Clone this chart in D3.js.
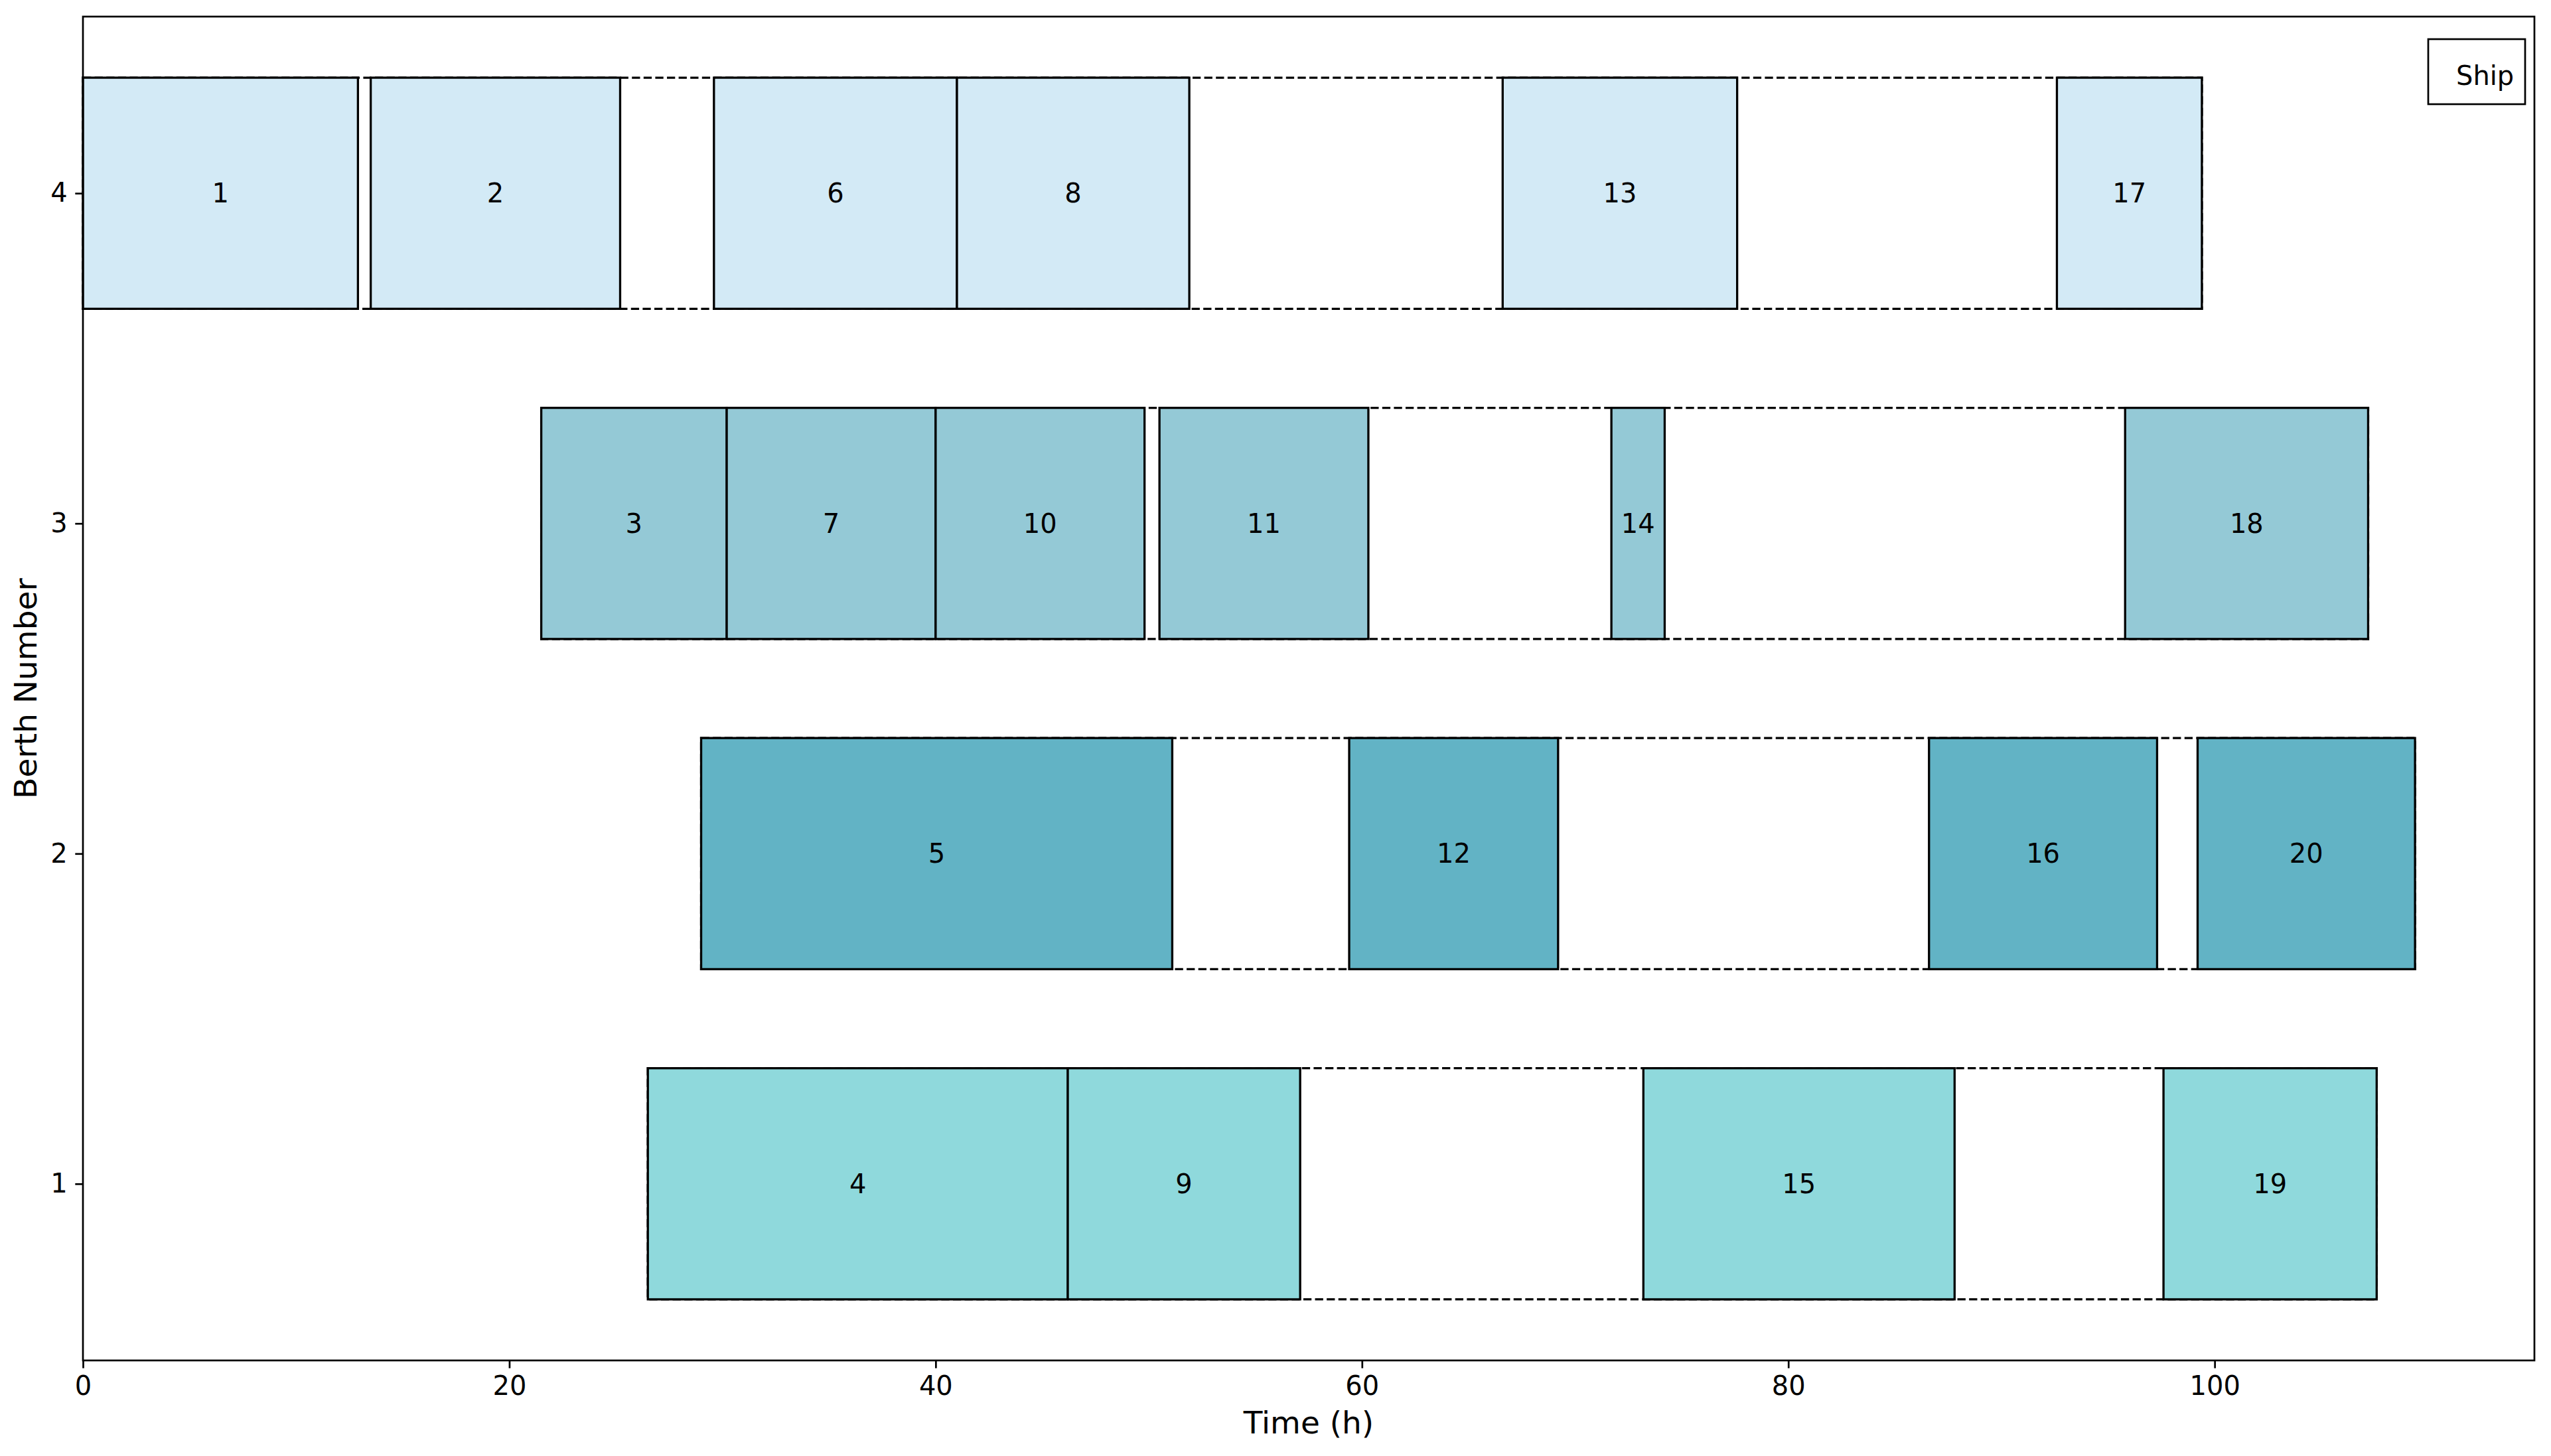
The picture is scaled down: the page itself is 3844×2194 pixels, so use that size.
<!DOCTYPE html>
<html>
<head>
<meta charset="utf-8">
<script src="https://cdn.jsdelivr.net/npm/d3@7"></script>
<style>
  html, body { margin: 0; padding: 0; background: #fff; }
  svg text { font-family: "DejaVu Sans", sans-serif; fill: #000; }
</style>
</head>
<body>
<div id="chart"></div>
<script>
// ship schedule (index i -> ship i+1)
const ships  = [1,2,3,4,5,6,7,8,9,10,11,12,13,14,15,16,17,18,19,20]
const berths = [4,4,3,1,2,4,3,4,1,3,3,2,4,3,1,2,4,3,1,2]
const starts = [0,13.5,21.5,26.5,29.0,29.6,30.2,41.0,46.2,40.0,50.5,59.4,66.6,71.7,73.2,86.6,92.6,95.8,97.6,99.2]
const ends   = [12.9,25.2,30.2,46.2,51.1,41.0,40.0,51.9,57.1,49.8,60.3,69.2,77.6,74.2,87.8,97.3,99.4,107.2,107.6,109.4]
const berthIds = [1,2,3,4]
const berthColors = ["#8fd9dc","#62b3c5","#94c9d6","#d3eaf6"]
const xTicks = [0,20,40,60,80,100]
const xMax = 115

function render(){
  let width = 3844, height = 2194,
      margin = { top:25, left:125, right:25, bottom:144 },
      innerWidth = width - margin.left - margin.right,
      innerHeight = height - margin.top - margin.bottom

  const half = 0.35
  const data = ships.map((s,i) => ({ ship:s, berth:berths[i], start:starts[i], end:ends[i] }))

  let xScale = d3.scaleLinear().domain([0, xMax]).range([0, innerWidth])
  let pad = (berthIds.length - 1 + 2*half) * 0.05
  let yScale = d3.scaleLinear().domain([1 - half - pad, 4 + half + pad]).range([innerHeight, 0])
  const color = d3.scaleOrdinal().domain(berthIds).range(berthColors)

  let svg = d3.select("#chart").append("svg")
    .attr("width", width).attr("height", height)
    .attr("viewBox", `0 0 ${width} ${height}`)
    .style("background-color", "#fff")
  let g = svg.append("g").attr("transform", `translate(${margin.left},${margin.top})`)

  // dashed span of each berth, from first arrival to last departure
  let spans = berthIds.map(b => {
    let rows = data.filter(d => d.berth === b)
    return { berth:b, start:d3.min(rows, d => d.start), end:d3.max(rows, d => d.end) }
  })
  g.selectAll("rect.span")
    .data(spans)
    .enter()
    .append("rect")
    .attr("class", "span")
    .attr("x", d => xScale(d.start))
    .attr("y", d => yScale(d.berth + half))
    .attr("width", d => xScale(d.end) - xScale(d.start))
    .attr("height", d => yScale(d.berth - half) - yScale(d.berth + half))
    .attr("fill", "none")
    .attr("stroke", "#000")
    .attr("stroke-width", 3.3)
    .attr("stroke-dasharray", "12.3,5.3")

  g.selectAll("rect.ship")
    .data(data)
    .enter()
    .append("rect")
    .attr("class", "ship")
    .attr("x", d => xScale(d.start))
    .attr("y", d => yScale(d.berth + half))
    .attr("width", d => xScale(d.end) - xScale(d.start))
    .attr("height", d => yScale(d.berth - half) - yScale(d.berth + half))
    .attr("fill", d => color(d.berth))
    .attr("stroke", "#000")
    .attr("stroke-width", 3.3)

  g.selectAll("text.ship")
    .data(data)
    .enter()
    .append("text")
    .attr("class", "ship")
    .attr("x", d => xScale((d.start + d.end)/2))
    .attr("y", d => yScale(d.berth))
    .attr("text-anchor", "middle")
    .attr("dominant-baseline", "central")
    .style("font-size", "40px")
    .text(d => d.ship)

  // axes
  let xAxis = d3.axisBottom(xScale).tickValues(xTicks).tickSize(11.7).tickPadding(11.7)
  let yAxis = d3.axisLeft(yScale).tickValues(berthIds).tickSize(11.7).tickPadding(11.7).tickFormat(d3.format("d"))
  let gx = g.append("g").attr("transform", `translate(0,${innerHeight})`).call(xAxis)
  let gy = g.append("g").call(yAxis)
  ;[gx, gy].forEach(a => {
    a.select(".domain").remove()
    a.selectAll(".tick line").attr("stroke", "#000").attr("stroke-width", 2.7)
    a.selectAll(".tick text").style("font-size", "40px").attr("font-family", "DejaVu Sans")
  })

  // frame
  g.append("rect")
    .attr("width", innerWidth).attr("height", innerHeight)
    .attr("fill", "none").attr("stroke", "#000").attr("stroke-width", 2.7)

  svg.append("text")
    .attr("x", margin.left + innerWidth/2)
    .attr("y", 2160)
    .attr("text-anchor", "middle")
    .style("font-size", "47px")
    .text("Time (h)")

  svg.append("text")
    .attr("transform", `translate(55,${margin.top + innerHeight/2}) rotate(-90)`)
    .attr("text-anchor", "middle")
    .style("font-size", "47px")
    .text("Berth Number")

  // legend
  let lg = svg.append("g").attr("transform", "translate(3659,59)")
  lg.append("rect").attr("width", 146).attr("height", 98)
    .attr("fill", "#fff").attr("stroke", "#000").attr("stroke-width", 2.7)
  lg.append("text").attr("x", 42).attr("y", 69).style("font-size", "40px").text("Ship")
}

render()
</script>
</body>
</html>
